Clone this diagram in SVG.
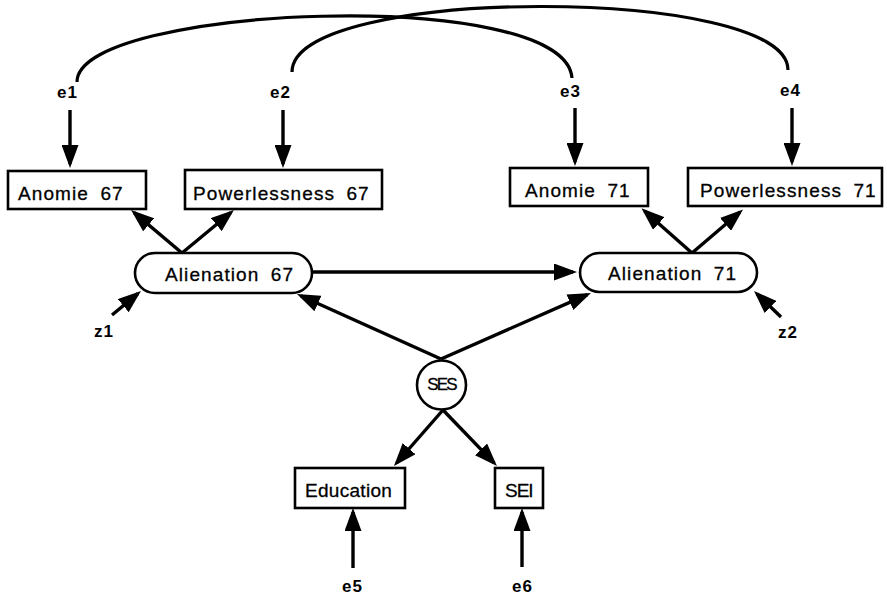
<svg xmlns="http://www.w3.org/2000/svg" width="887" height="598" viewBox="0 0 887 598">
  <style>
    .box { fill: #fff; stroke: #000; stroke-width: 2.6; }
    .lbl { font-family: "Liberation Sans", Arial, sans-serif; font-size: 19px; letter-spacing: 1.1px; word-spacing: 5px; fill: #000; stroke: #000; stroke-width: 0.3; }
    .err { font-family: "Liberation Sans", Arial, sans-serif; font-size: 17px; font-weight: bold; letter-spacing: 1px; fill: #000; }
    .path { fill: none; stroke: #000; stroke-width: 3.4; }
    .cov { fill: none; stroke: #000; stroke-width: 3.2; }
  </style>
  <defs>
    <marker id="ah" markerUnits="userSpaceOnUse" viewBox="0 0 23 17" markerWidth="23" markerHeight="17" refX="19" refY="8.5" orient="auto">
      <path d="M0,0 L23,8.5 L0,17 Z" fill="#000"/>
    </marker>
  </defs>
  <rect width="887" height="598" fill="#fff"/>

  <!-- connectors -->
  <g id="connectors">
    <!-- error covariances -->
    <path class="cov" d="M77,82 C77,5 565,-15 572,78"/>
    <path class="cov" d="M292,72 C292,-15 788,-15 788,70"/>
    <!-- error terms to indicators -->
    <line class="path" x1="70" y1="110" x2="70" y2="164" marker-end="url(#ah)"/>
    <line class="path" x1="283" y1="110" x2="283" y2="164" marker-end="url(#ah)"/>
    <line class="path" x1="575" y1="108" x2="575" y2="162" marker-end="url(#ah)"/>
    <line class="path" x1="792" y1="108" x2="792" y2="162" marker-end="url(#ah)"/>
    <!-- latent to indicators -->
    <line class="path" x1="182" y1="253" x2="134.1" y2="212.6" marker-end="url(#ah)"/>
    <line class="path" x1="182" y1="253" x2="230.9" y2="212.5" marker-end="url(#ah)"/>
    <line class="path" x1="692" y1="253" x2="644.5" y2="211" marker-end="url(#ah)"/>
    <line class="path" x1="692" y1="253" x2="740" y2="212" marker-end="url(#ah)"/>
    <!-- structural paths -->
    <line class="path" x1="312" y1="272" x2="573" y2="272" marker-end="url(#ah)"/>
    <line class="path" x1="441" y1="359" x2="300.6" y2="295.7" marker-end="url(#ah)"/>
    <line class="path" x1="441" y1="359" x2="587.3" y2="294.6" marker-end="url(#ah)"/>
    <line class="path" x1="443" y1="410" x2="396.6" y2="463" marker-end="url(#ah)"/>
    <line class="path" x1="443" y1="410" x2="494.2" y2="463.1" marker-end="url(#ah)"/>
    <!-- disturbances and SES indicator errors -->
    <line class="path" x1="353" y1="568" x2="353" y2="512" marker-end="url(#ah)"/>
    <line class="path" x1="522" y1="567" x2="522" y2="512" marker-end="url(#ah)"/>
    <line class="path" x1="112" y1="315" x2="137.9" y2="293.6" marker-end="url(#ah)"/>
    <line class="path" x1="781" y1="317" x2="756.9" y2="293.8" marker-end="url(#ah)"/>
  </g>

  <!-- observed indicators -->
  <g id="anomie67">
    <rect class="box" x="8" y="171" width="138" height="38"/>
    <text class="lbl" x="18" y="200">Anomie 67</text>
  </g>
  <g id="powerlessness67">
    <rect class="box" x="185" y="170" width="197" height="39"/>
    <text class="lbl" x="193" y="200">Powerlessness 67</text>
  </g>
  <g id="anomie71">
    <rect class="box" x="510" y="168" width="138" height="38"/>
    <text class="lbl" x="525" y="197">Anomie 71</text>
  </g>
  <g id="powerlessness71">
    <rect class="box" x="688" y="168" width="194" height="38"/>
    <text class="lbl" x="700" y="197">Powerlessness 71</text>
  </g>

  <!-- latent variables -->
  <g id="alienation67">
    <rect class="box" x="135" y="253" width="177" height="40" rx="20" ry="20"/>
    <text class="lbl" x="165" y="281">Alienation 67</text>
  </g>
  <g id="alienation71">
    <rect class="box" x="580" y="253" width="177" height="39" rx="19.5" ry="19.5"/>
    <text class="lbl" x="608" y="280">Alienation 71</text>
  </g>
  <g id="ses">
    <circle class="box" cx="441.5" cy="385" r="24.5"/>
    <text class="lbl" x="441.5" y="390" text-anchor="middle" style="font-size:17px;letter-spacing:-1.8px">SES</text>
  </g>
  <g id="education">
    <rect class="box" x="295" y="468" width="110" height="40"/>
    <text class="lbl" x="305" y="497" style="letter-spacing:0.3px">Education</text>
  </g>
  <g id="sei">
    <rect class="box" x="495" y="468" width="48" height="40"/>
    <text class="lbl" x="505" y="497" style="letter-spacing:-1px">SEI</text>
  </g>

  <!-- error and disturbance labels -->
  <g id="e1"><text class="err" x="57" y="98">e1</text></g>
  <g id="e2"><text class="err" x="270" y="98">e2</text></g>
  <g id="e3"><text class="err" x="560" y="97">e3</text></g>
  <g id="e4"><text class="err" x="780" y="96">e4</text></g>
  <g id="e5"><text class="err" x="342" y="592">e5</text></g>
  <g id="e6"><text class="err" x="512" y="592">e6</text></g>
  <g id="z1"><text class="err" x="94" y="337">z1</text></g>
  <g id="z2"><text class="err" x="778" y="338">z2</text></g>
</svg>
